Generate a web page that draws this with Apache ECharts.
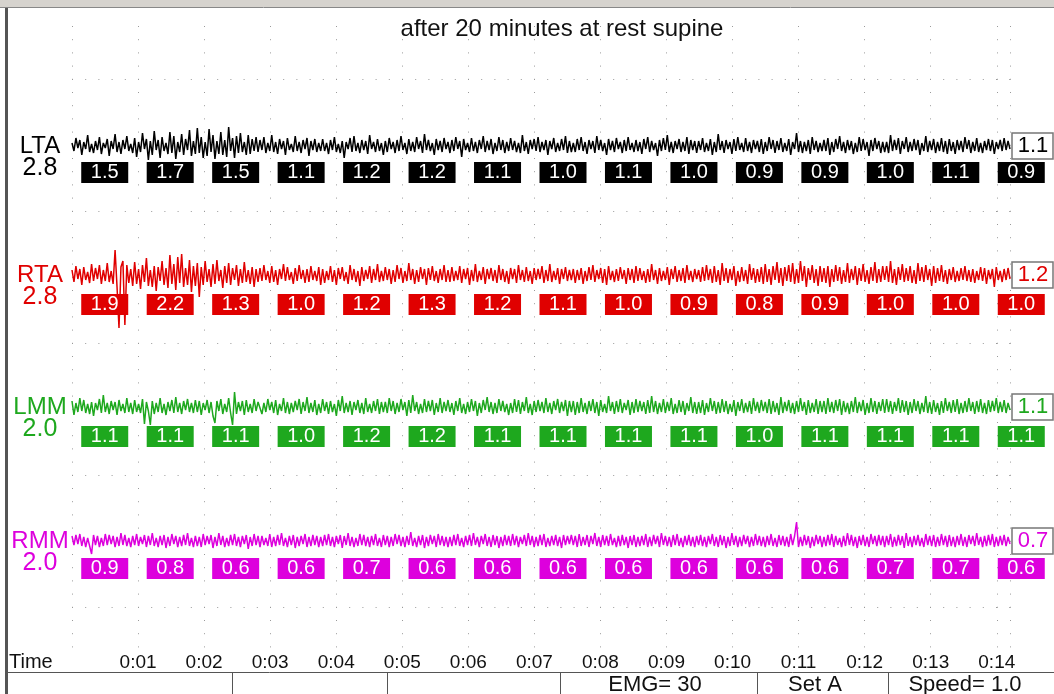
<!DOCTYPE html>
<html><head><meta charset="utf-8">
<script src="https://cdn.jsdelivr.net/npm/echarts@6/dist/echarts.min.js"></script>
<style>html,body{margin:0;padding:0;background:#fff}#c{width:1054px;height:694px}</style>
</head><body><div id="c"></div><script>
const channels = ['LTA','RTA','LMM','RMM'];
const scales = ['2.8','2.8','2.0','2.0'];
const rightValues = [1.1, 1.2, 1.1, 0.7];
const timeLabels = ['0:01','0:02','0:03','0:04','0:05','0:06','0:07','0:08','0:09','0:10','0:11','0:12','0:13','0:14'];
const statusTexts = ['EMG= 30','Set A','Speed= 1.0'];

const ltaBoxes = [1.5,1.7,1.5,1.1,1.2,1.2,1.1,1.0,1.1,1.0,0.9,0.9,1.0,1.1,0.9];
const rtaBoxes = [1.9,2.2,1.3,1.0,1.2,1.3,1.2,1.1,1.0,0.9,0.8,0.9,1.0,1.0,1.0];
const lmmBoxes = [1.1,1.1,1.1,1.0,1.2,1.2,1.1,1.1,1.1,1.1,1.0,1.1,1.1,1.1,1.1];
const rmmBoxes = [0.9,0.8,0.6,0.6,0.7,0.6,0.6,0.6,0.6,0.6,0.6,0.6,0.7,0.7,0.6];

const ltaTrace = [
3,-5,8,-2,6,-9,4,-3,11,-6,2,-7,5,-4,9,-8,3,-2,7,-10,5,-3,12,-6,4,-8,6,-3,10,-5,2,-7,
8,-11,4,-6,13,-3,7,-14,5,-9,15,-4,6,-12,9,-5,3,-8,14,-7,10,-13,4,-6,12,-9,7,-4,16,-10,5,-8,
18,-7,9,-12,4,-10,17,-6,11,-13,5,-8,14,-9,6,-11,19,-5,8,-12,10,-7,13,-6,4,-9,11,-8,7,-5,9,-6,
6,-4,9,-7,3,-5,11,-6,4,-8,7,-3,5,-9,8,-4,2,-6,10,-5,4,-7,6,-3,8,-10,5,-4,7,-6,3,-5,
7,-5,3,-8,6,-4,9,-6,2,-7,5,-12,4,-3,8,-6,10,-5,3,-7,6,-4,5,-8,11,-3,4,-6,7,-5,3,-9,
5,-6,8,-3,4,-7,6,-5,10,-4,3,-8,7,-5,4,-6,9,-3,5,-7,12,-4,6,-5,3,-9,7,-4,5,-6,8,-3,
4,-7,6,-5,9,-3,5,-11,7,-4,3,-6,8,-5,4,-7,6,-3,10,-6,5,-4,7,-8,3,-5,9,-4,6,-7,4,-5,
8,-4,5,-6,3,-7,11,-5,4,-8,6,-3,7,-5,9,-6,4,-4,6,-9,5,-3,8,-6,3,-5,7,-4,10,-7,5,-6,
3,-6,7,-4,9,-5,4,-8,6,-3,5,-7,10,-4,6,-5,3,-9,7,-4,5,-6,8,-3,4,-7,6,-5,9,-4,3,-6,
6,-5,4,-8,7,-3,9,-6,5,-4,3,-10,6,-5,8,-4,11,-6,4,-7,5,-3,7,-6,4,-5,9,-8,6,-4,5,-7,
5,-4,8,-6,3,-5,7,-9,4,-6,12,-4,5,-7,6,-3,4,-8,7,-5,9,-4,3,-6,8,-5,4,-7,6,-3,5,-6,
7,-8,4,-5,9,-3,6,-7,5,-4,8,-6,3,-5,7,-9,4,-3,13,-6,5,-7,4,-5,6,-8,9,-4,5,-6,3,-5,
6,-5,8,-9,4,-6,7,-3,10,-5,4,-7,6,-4,5,-8,3,-6,9,-5,7,-4,4,-10,6,-5,8,-3,5,-7,4,-6,
4,-7,11,-5,6,-4,8,-8,5,-3,9,-6,4,-5,7,-4,6,-9,3,-5,10,-6,5,-4,7,-7,4,-5,8,-6,5,-8,
7,-5,4,-8,6,-4,5,-6,9,-3,6,-7,4,-5,8,-6,3,-7,5,-4,7,-5,6,-8,4,-3,6,-5,8,-4,5,-3];

const rtaTrace = [
5,-7,9,-4,6,-10,8,-5,3,-8,11,-6,7,-4,10,-9,5,-6,12,-7,4,-9,25,-12,-53,8,14,-50,10,-8,6,-11,
13,-9,6,-14,10,-7,17,-11,5,-12,9,-16,8,-6,14,-10,7,-13,20,-9,11,-15,18,-8,21,-12,7,-10,15,-17,9,-11,
12,-22,8,-10,14,-7,6,-12,11,-9,15,-6,5,-13,9,-8,12,-10,7,-5,10,-11,6,-8,13,-7,5,-9,8,-12,6,-7,
7,-6,10,-5,4,-8,9,-7,5,-10,6,-4,11,-6,8,-5,3,-9,7,-6,10,-4,5,-8,6,-7,9,-5,4,-6,8,-10,
6,-8,4,-5,9,-7,5,-10,7,-4,8,-6,3,-9,10,-5,6,-7,4,-11,8,-6,5,-4,9,-8,6,-5,11,-7,4,-6,
8,-5,6,-9,5,-7,10,-4,7,-8,4,-6,12,-5,6,-9,5,-7,8,-4,6,-10,7,-5,9,-6,4,-8,6,-5,10,-7,
5,-7,8,-6,4,-5,9,-8,6,-4,7,-10,5,-6,11,-7,4,-5,8,-9,6,-4,7,-6,5,-8,10,-5,6,-7,4,-9,
7,-4,6,-8,10,-5,5,-7,8,-6,4,-9,7,-5,6,-4,9,-8,5,-6,11,-7,4,-5,7,-9,6,-4,8,-6,5,-5,
6,-8,5,-5,7,-9,4,-6,8,-5,10,-7,5,-4,7,-8,6,-10,9,-5,4,-7,6,-6,8,-4,5,-9,7,-5,6,-8,
9,-6,7,-5,4,-8,6,-7,11,-5,5,-9,7,-6,4,-5,8,-10,6,-4,9,-7,5,-6,7,-8,10,-5,4,-7,6,-4,
5,-7,8,-6,10,-5,6,-8,9,-7,5,-10,12,-6,7,-8,6,-5,9,-11,4,-7,8,-6,5,-9,11,-5,7,-8,6,-7,
8,-9,11,-7,6,-10,9,-5,13,-8,7,-11,8,-6,10,-7,12,-9,6,-8,14,-6,9,-12,7,-5,10,-8,6,-11,9,-7,
7,-8,9,-12,6,-7,10,-6,8,-9,5,-7,12,-8,6,-5,9,-10,7,-6,11,-7,5,-9,8,-6,13,-8,6,-7,9,-5,
9,-7,14,-8,6,-10,8,-5,11,-7,7,-6,9,-8,5,-9,12,-6,8,-7,10,-5,6,-11,9,-8,7,-6,10,-7,5,-9,
6,-5,8,-7,4,-6,7,-5,9,-6,5,-7,6,-8,4,-5,8,-6,7,-9,5,-4,6,-12,8,-5,4,-7,6,-5,7,-4];

const lmmTrace = [
6,-8,4,-5,9,-4,7,-6,3,-7,5,-9,4,-3,8,-6,12,-5,4,-7,6,-3,5,-8,7,-4,3,-6,9,-5,4,-7,
7,-5,3,-6,8,-17,5,-4,-18,6,-7,4,-5,9,-6,3,-8,5,-4,7,-6,10,-5,4,-7,6,-3,8,-5,4,-6,7,
-5,6,-8,4,-3,7,-6,5,-9,-16,6,-4,8,-7,3,-5,9,-6,-18,15,-7,5,-4,6,-8,7,-5,3,-6,8,-4,5,
6,-7,4,-5,8,-3,5,-6,7,-8,3,-4,9,-6,5,-7,4,-5,6,-3,8,-7,5,-4,10,-6,4,-5,7,-8,3,-6,
8,-4,5,-7,6,-5,3,-9,7,-4,11,-6,4,-5,6,-8,5,-3,7,-6,4,-7,9,-5,3,-6,6,-4,8,-7,5,-5,
5,-6,9,-4,6,-7,4,-5,8,-3,5,-9,7,-6,12,-4,5,-7,3,-6,8,-5,6,-4,7,-8,4,-5,9,-6,5,-4,
7,-5,4,-8,6,-4,9,-6,3,-7,5,-5,8,-4,6,-9,4,-6,7,-3,10,-5,5,-7,4,-6,8,-4,6,-5,3,-8,
4,-6,8,-5,7,-7,5,-4,10,-6,3,-8,6,-5,7,-4,5,-6,9,-5,4,-7,6,-3,8,-6,5,-4,7,-9,6,-5,
6,-8,5,-6,9,-5,4,-7,6,-4,8,-6,5,-9,7,-5,3,-6,11,-4,5,-7,6,-5,8,-6,4,-3,7,-8,5,-6,
8,-5,6,-4,5,-7,7,-6,11,-5,6,-7,4,-5,8,-6,5,-4,9,-7,3,-6,7,-5,6,-8,4,-4,10,-6,5,-7,
5,-6,7,-8,4,-5,9,-4,6,-7,5,-6,8,-5,6,-7,3,-5,7,-9,5,-4,8,-6,4,-5,6,-7,9,-4,5,-6,
7,-4,5,-6,8,-7,6,-5,4,-8,10,-6,5,-4,7,-6,4,-7,6,-5,9,-4,5,-8,7,-6,4,-5,8,-7,6,-5,
6,-7,9,-5,5,-6,7,-4,8,-8,6,-5,4,-7,6,-5,10,-6,5,-4,7,-8,4,-6,9,-5,6,-7,5,-4,8,-6,
8,-5,6,-7,5,-4,9,-6,7,-5,6,-8,5,-6,8,-4,6,-7,4,-5,11,-6,5,-7,7,-5,4,-8,6,-6,9,-4,
5,-6,7,-5,8,-7,4,-6,6,-5,9,-4,5,-7,6,-5,8,-6,4,-7,7,-5,6,-4,9,-6,5,-5,7,-6,4,-3];

const rmmTrace = [
5,-4,6,-3,7,-5,4,-6,3,-5,-13,6,-4,5,-6,3,-5,7,-4,6,-3,5,-6,4,-5,8,-4,6,-5,3,-6,5,
-4,7,-5,4,-3,6,-6,5,-4,8,-5,3,-6,5,-4,6,-7,4,-5,7,-3,5,-6,4,-5,6,-4,8,-5,3,-6,5,
-5,4,-6,7,-4,5,-3,6,-7,4,-5,8,-4,5,-6,3,-5,6,-4,7,-5,4,-6,5,-3,6,-8,4,-5,7,-4,5,
-6,5,-4,3,-5,7,-6,4,-5,6,-4,8,-5,3,-6,5,-4,6,-7,4,-5,5,-3,7,-6,4,-5,6,-4,5,-6,4,
-5,6,-4,7,-5,4,-6,5,-3,6,-7,5,-4,8,-5,4,-6,3,-5,7,-4,6,-5,4,-6,5,-4,7,-5,3,-6,6,
-4,5,-6,4,-5,7,-3,6,-5,4,-6,5,-4,9,-5,3,-6,5,-4,6,-7,4,-5,6,-3,5,-6,7,-4,5,-5,4,
-6,4,-5,6,-4,7,-5,3,-6,5,-4,6,-5,8,-4,4,-6,5,-3,7,-5,4,-6,6,-4,5,-7,4,-5,6,-4,5,
-5,7,-4,5,-6,4,-3,6,-5,8,-4,5,-6,4,-5,6,-4,7,-6,3,-5,5,-4,6,-5,4,-7,6,-4,5,-3,6,
-4,5,-6,7,-5,4,-4,6,-6,5,-3,8,-5,4,-6,6,-4,5,-5,7,-4,3,-6,5,-5,6,-4,4,-7,5,-4,6,
-6,4,-5,5,-4,7,-6,4,-5,6,-3,5,-6,8,-4,5,-5,4,-6,6,-4,7,-5,3,-6,5,-4,6,-5,4,-6,5,
-4,6,-5,4,-6,5,-3,7,-5,4,-6,6,-4,5,-7,4,-5,8,-4,5,-6,4,-5,6,-3,5,-6,4,-5,7,-4,5,
-5,4,-6,5,-4,7,-5,3,-6,6,-4,5,-5,4,-6,7,-4,5,19,-6,4,-5,6,-4,5,-7,4,-5,6,-3,5,-6,
4,-5,6,-4,7,-6,5,-4,3,-6,5,-5,8,-4,6,-5,4,-7,5,-4,6,-5,4,-6,7,-3,5,-5,6,-4,5,-6,
5,-4,7,-6,4,-5,6,-4,5,-7,8,-5,4,-6,5,-4,6,-5,3,-6,7,-4,5,-5,6,-6,4,-5,7,-4,5,-6,
6,-5,4,-6,5,-4,7,-5,4,-6,6,-3,5,-5,8,-4,4,-6,5,-5,6,-4,7,-6,4,-5,5,-4,6,-5,4,-3];

const traces = [ltaTrace, rtaTrace, lmmTrace, rmmTrace];
const boxes = [ltaBoxes, rtaBoxes, lmmBoxes, rmmBoxes];
const colors = ['#000000', '#e00000', '#1ea81e', '#dd00dd'];
const baselines = [146, 275, 407, 541];
const FONT = '"Liberation Sans", Arial, sans-serif';

const grids = [], xAxes = [], yAxes = [], series = [];
traces.forEach((tr, k) => {
  grids.push({left: 72, width: 938, top: baselines[k] - 60, height: 120});
  xAxes.push({gridIndex: k, type: 'category', boundaryGap: false, show: false, data: tr.map((_, i) => i)});
  yAxes.push({gridIndex: k, type: 'value', min: -60, max: 60, show: false});
  series.push({type: 'line', xAxisIndex: k, yAxisIndex: k, data: tr, showSymbol: false, symbol: 'none',
    lineStyle: {color: colors[k], width: 1.5}, itemStyle: {color: colors[k]}, animation: false, z: 3});
});
grids.push({left: 72, width: 990, top: 106.5, height: 528});
xAxes.push({gridIndex: 4, type: 'value', min: 0, max: 15, show: false});
yAxes.push({gridIndex: 4, type: 'category', inverse: true, data: channels, show: false});
boxes.forEach((b, k) => {
  series.push({type: 'scatter', xAxisIndex: 4, yAxisIndex: 4, clip: false, animation: false, z: 4,
    symbol: 'rect', symbolSize: [47, 21], itemStyle: {color: colors[k], opacity: 1},
    label: {show: true, position: 'inside', color: '#fff', fontSize: 20, fontFamily: FONT,
      formatter: p => p.value[2].toFixed(1)},
    data: b.map((v, i) => [i + 0.5, channels[k], v])});
});
grids.push({left: 72, width: 938, top: 26, height: 624});
xAxes.push({gridIndex: 5, type: 'value', min: 0, max: 14.2, interval: 1,
  axisLine: {show: false}, axisTick: {show: false},
  splitLine: {show: true, lineStyle: {color: '#9a9a9a', width: 1, type: [1, 12.2]}},
  axisLabel: {show: true, margin: 3, fontSize: 19, color: '#111', fontFamily: FONT, showMaxLabel: false,
    formatter: v => (v >= 1 && v <= 14) ? timeLabels[v - 1] : ''}});
yAxes.push({gridIndex: 5, type: 'value', min: 0, max: 1, show: false});
grids.push({left: 72, width: 938, top: 79, height: 528});
xAxes.push({gridIndex: 6, type: 'value', min: 0, max: 1, show: false});
yAxes.push({gridIndex: 6, type: 'value', min: 0, max: 4, interval: 1,
  axisLine: {show: false}, axisTick: {show: false}, axisLabel: {show: false},
  splitLine: {show: true, lineStyle: {color: '#9a9a9a', width: 1, type: [1, 12.2]}}});
series.push({type: 'line', xAxisIndex: 5, yAxisIndex: 5, data: [], silent: true});
series.push({type: 'line', xAxisIndex: 6, yAxisIndex: 6, data: [], silent: true});

function txt(text, x, y, size, color, align) {
  return {type: 'text', z: 10, style: {text, x, y, fill: color, font: size + 'px ' + FONT,
    textAlign: align || 'center', align: align || 'center', textVerticalAlign: 'middle', verticalAlign: 'middle'}};
}
const graphic = [];
graphic.push({type: 'rect', shape: {x: 0, y: 0, width: 1054, height: 7}, style: {fill: '#d6d3ce'}});
graphic.push({type: 'line', shape: {x1: 0, y1: 7.5, x2: 1054, y2: 7.5}, style: {stroke: '#888', lineWidth: 1}});
graphic.push({type: 'rect', shape: {x: 5, y: 8, width: 3, height: 686}, style: {fill: '#555'}});
graphic.push(txt('after 20 minutes at rest supine', 562, 29, 24, '#111'));
channels.forEach((c, k) => {
  graphic.push(txt(c, 40, baselines[k], 24, colors[k]));
  graphic.push(txt(scales[k], 40, baselines[k] + 22, 25, colors[k]));
  graphic.push({type: 'rect', z: 9, shape: {x: 1012, y: baselines[k] - 13, width: 41, height: 26},
    style: {fill: '#fff', stroke: '#777', lineWidth: 1.5}});
  graphic.push(txt(rightValues[k].toFixed(1), 1033, baselines[k], 22, k === 0 ? '#000' : colors[k]));
});
graphic.push(txt('Time', 9, 662, 20, '#111', 'left'));
graphic.push({type: 'line', shape: {x1: 8, y1: 672.5, x2: 1054, y2: 672.5}, style: {stroke: '#555', lineWidth: 1}});
[232, 387, 560, 757, 888].forEach(x => {
  graphic.push({type: 'line', shape: {x1: x + 0.5, y1: 672, x2: x + 0.5, y2: 694}, style: {stroke: '#555', lineWidth: 1}});
});
graphic.push(txt(statusTexts[0], 655, 685, 22, '#111'));
graphic.push(txt(statusTexts[1], 815, 685, 22, '#111'));
graphic.push(txt(statusTexts[2], 965, 685, 22, '#111'));

const chart = echarts.init(document.getElementById('c'), null, {renderer: 'canvas'});
chart.setOption({animation: false, backgroundColor: '#fff', grid: grids, xAxis: xAxes, yAxis: yAxes, series, graphic});
</script></body></html>
